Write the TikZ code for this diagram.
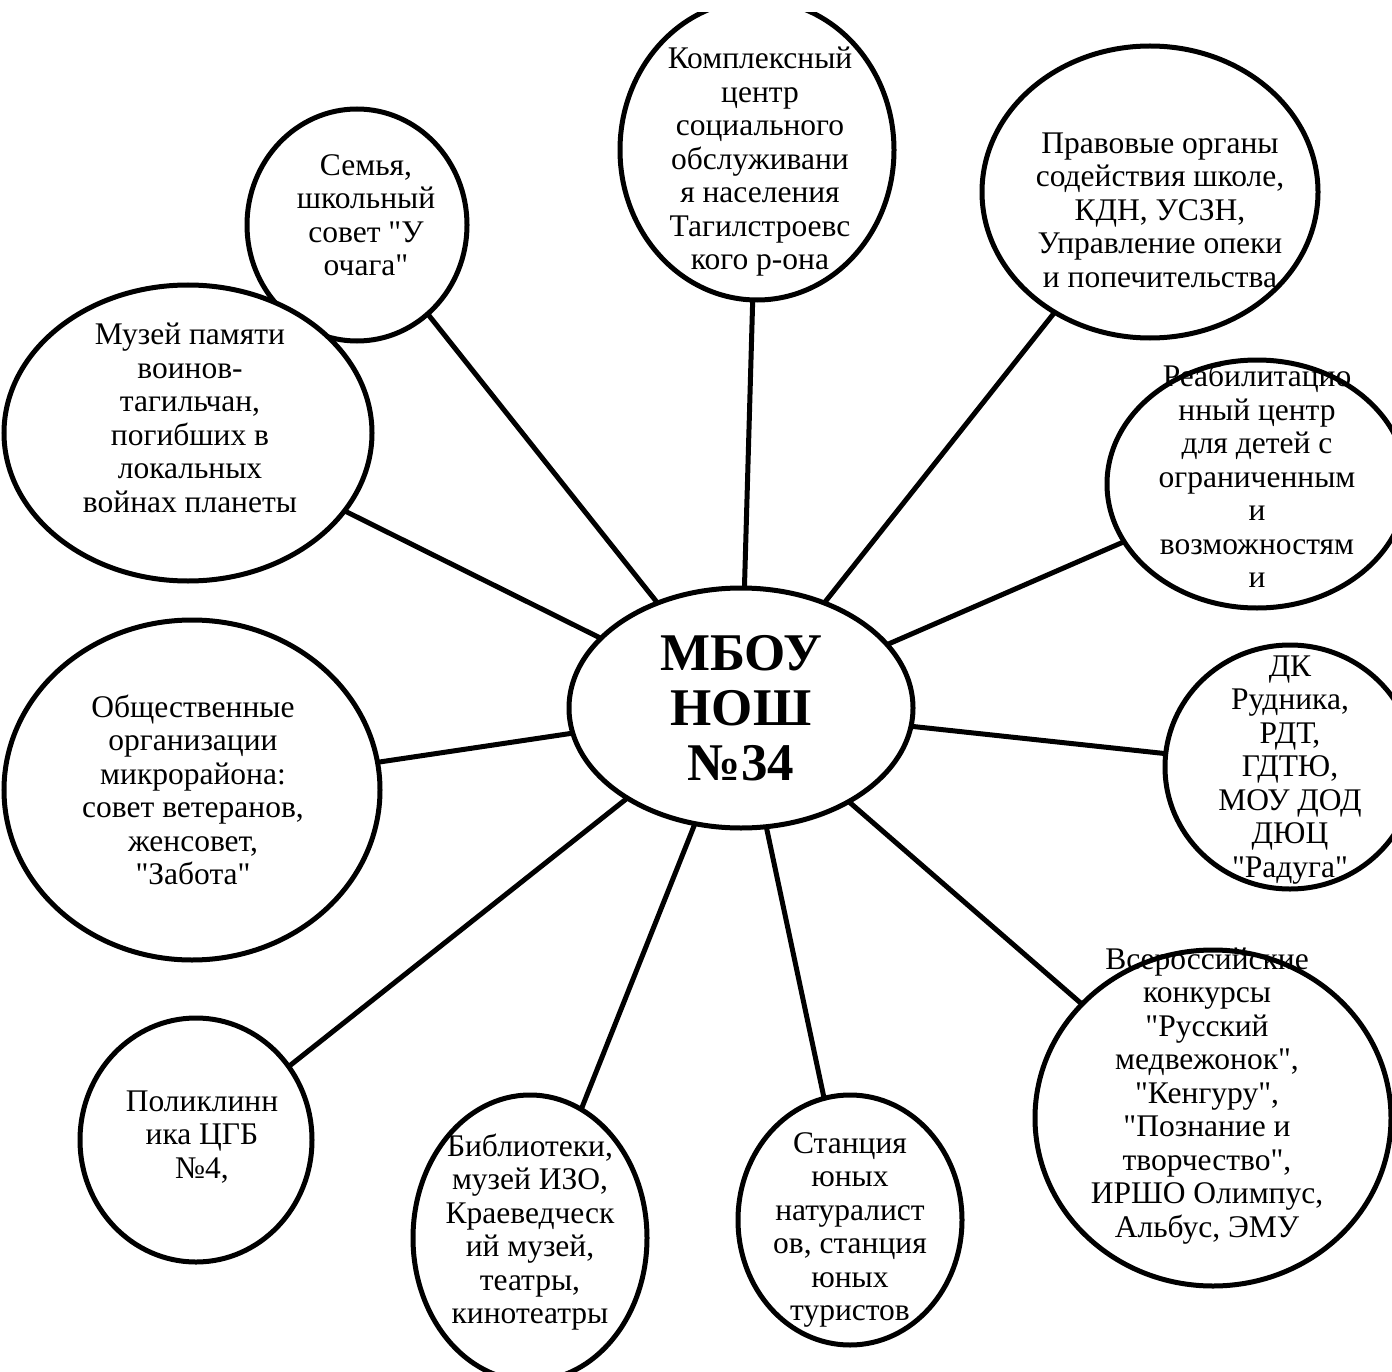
\documentclass[tikz,border=0pt]{standalone}
\usepackage{fontspec}
\defaultfontfeatures{}
\setmainfont{Liberation Serif}[Ligatures=ResetAll]
\usetikzlibrary{shapes.geometric}
\tikzset{
  bub/.style={draw=black, fill=white, line width=5pt, ellipse, inner sep=0pt, outer sep=0pt},
  txt/.style={align=center, inner sep=0pt, font=\fontsize{31.5}{33.5}\selectfont},
  big/.style={align=center, inner sep=0pt, font=\bfseries\fontsize{53}{55}\selectfont},
  link/.style={draw=black, line width=5pt}
}
\newcommand{\bubble}[5]{\node[bub, minimum width=#4pt, minimum height=#5pt] (#1) at (#2,#3) {};}
\newcommand{\dq}{{\XeTeXglyph\XeTeXcharglyph"22\relax}}
\begin{document}
\begin{tikzpicture}[x=1pt,y=-1pt]
\useasboundingbox (0,0) rectangle (1392,1372);
\fill[white] (0,0) rectangle (1392,1372);
\clip (0,13) rectangle (1392,1372);
% ellipses
\bubble{c}{741}{708}{344}{240}
\bubble{top}{757}{150}{274}{300}
\bubble{prav}{1150}{192}{336}{292}
\bubble{semya}{357}{225}{220}{232}
\bubble{muzey}{188}{433}{368}{296}
\bubble{reab}{1257}{484}{300}{248}
\bubble{obsh}{192}{790}{376}{340}
\bubble{dk}{1290}{767}{250}{244}
\bubble{vser}{1213}{1118}{356}{336}
\bubble{polik}{196}{1140}{232}{244}
\bubble{bibl}{530}{1238}{234}{286}
\bubble{stan}{850}{1220}{224}{250}
% connectors
\foreach \n in {top,prav,semya,muzey,reab,obsh,dk,vser,polik,bibl,stan}
  \draw[link] (c) -- (\n);
% texts
\node[big] (tc) at (741,708) {МБОУ\\НОШ\\№34};
\node[txt] (ttop) at (760,162) {Комплексный\\центр\\социального\\обслуживани\\я населения\\Тагилстроевс\\кого р-она};
\node[txt] (tprav) at (1160,210) {Правовые органы\\содействия школе,\\КДН, УСЗН,\\Управление опеки\\и попечительства};
\node[txt] (tsemya) at (366,215) {Семья,\\школьный\\совет \dq У\\очага\dq};
\node[txt] (tmuzey) at (190,418) {Музей памяти\\воинов-\\тагильчан,\\погибших в\\локальных\\войнах планеты};
\node[txt] (treab) at (1257,476) {Реабилитацио\\нный центр\\для детей с\\ограниченным\\и\\возможностям\\и};
\node[txt] (tobsh) at (193,790) {Общественные\\организации\\микрорайона:\\совет ветеранов,\\женсовет,\\\dq Забота\dq};
\node[txt] (tdk) at (1290,770) {ДК\\Рудника,\\РДТ,\\ГДТЮ,\\МОУ ДОД\\ДЮЦ\\\dq Радуга\dq};
\node[txt] (tvser) at (1207,1096) {Всероссийские\\конкурсы\\\dq Русский\\медвежонок\dq,\\\dq Кенгуру\dq,\\\dq Познание и\\творчество\dq,\\ИРШО Олимпус,\\Альбус, ЭМУ};
\node[txt] (tpolik) at (202,1137) {Поликлинн\\ика ЦГБ\\№4,};
\node[txt] (tbibl) at (530,1232) {Библиотеки,\\музей ИЗО,\\Краеведческ\\ий музей,\\театры,\\кинотеатры};
\node[txt] (tstan) at (850,1230) {Станция\\юных\\натуралист\\ов, станция\\юных\\туристов};
\end{tikzpicture}
\end{document}
